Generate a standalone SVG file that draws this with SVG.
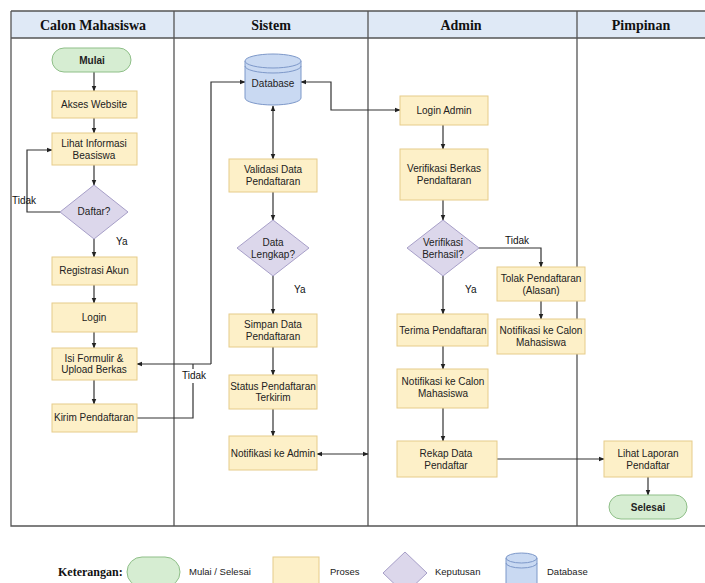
<svg xmlns="http://www.w3.org/2000/svg" width="705" height="583" viewBox="0 0 705 583">
<style>
.hdr{font-family:"Liberation Serif",serif;font-weight:bold;font-size:14px;fill:#111;text-anchor:middle}
.t{font-family:"Liberation Sans",Arial,sans-serif;font-size:10px;fill:#222;text-anchor:middle}
.tb{font-family:"Liberation Sans",Arial,sans-serif;font-size:10px;font-weight:bold;fill:#222;text-anchor:middle}
.lbl{font-family:"Liberation Sans",Arial,sans-serif;font-size:10px;fill:#111}
.lg{font-family:"Liberation Sans",Arial,sans-serif;font-size:9.5px;fill:#222}
.proc{fill:#fdf0c8;stroke:#e6cc8a;stroke-width:1}
.term{fill:#d6edd2;stroke:#8fbf88;stroke-width:1}
.dec{fill:#dcd7eb;stroke:#a79fc8;stroke-width:1}
.db{fill:#c9d9f2;stroke:#7d98c9;stroke-width:1}
.ln{fill:none;stroke:#333;stroke-width:1.2}
.lane{fill:none;stroke:#555;stroke-width:1.3}
</style>
<defs>
<marker id="ah" viewBox="0 0 10 10" refX="9" refY="5" markerWidth="6" markerHeight="6" orient="auto-start-reverse" markerUnits="userSpaceOnUse">
<path d="M0,1 L10,5 L0,9 z" fill="#222"/>
</marker>
</defs>
<rect width="705" height="583" fill="#ffffff"/>
<g id="swimlanes">
<rect x="11" y="11" width="700" height="27" fill="#dfe9f6"/>
<path class="lane" d="M11,11 H711 M11,38 H711 M11,11 V526 H711 M174,11 V526 M368,11 V526 M577,11 V526"/>
<text class="hdr" x="93" y="30">Calon Mahasiswa</text>
<text class="hdr" x="271" y="30">Sistem</text>
<text class="hdr" x="461" y="30">Admin</text>
<text class="hdr" x="641" y="30">Pimpinan</text>
</g>
<g id="connectors">
<path class="ln" d="M94,72 V91" marker-end="url(#ah)"/>
<path class="ln" d="M94,118 V133" marker-end="url(#ah)"/>
<path class="ln" d="M94,165 V185" marker-end="url(#ah)"/>
<path class="ln" d="M60,212 H27 V150 H52" marker-end="url(#ah)"/>
<path class="ln" d="M94,239 V257" marker-end="url(#ah)"/>
<path class="ln" d="M94,285 V303" marker-end="url(#ah)"/>
<path class="ln" d="M94,332 V348" marker-end="url(#ah)"/>
<path class="ln" d="M94,380 V404" marker-end="url(#ah)"/>
<path class="ln" d="M137,418 H193 V383"/>
<path class="ln" d="M193,369 V364"/>
<path class="ln" d="M211,364 H137" marker-end="url(#ah)"/>
<path class="ln" d="M211,364 V82 H245" marker-end="url(#ah)"/>
<path class="ln" d="M273,106 V159" marker-start="url(#ah)" marker-end="url(#ah)"/>
<path class="ln" d="M301,82 H331 V110 H400" marker-start="url(#ah)" marker-end="url(#ah)"/>
<path class="ln" d="M273,192 V220" marker-end="url(#ah)"/>
<path class="ln" d="M273,276 V314" marker-end="url(#ah)"/>
<path class="ln" d="M273,347 V375" marker-end="url(#ah)"/>
<path class="ln" d="M273,409 V436" marker-end="url(#ah)"/>
<path class="ln" d="M317,454 H368" marker-start="url(#ah)" marker-end="url(#ah)"/>
<path class="ln" d="M443,125 V149" marker-end="url(#ah)"/>
<path class="ln" d="M443,200 V220" marker-end="url(#ah)"/>
<path class="ln" d="M479,248 H541 V267" marker-end="url(#ah)"/>
<path class="ln" d="M541,301 V319" marker-end="url(#ah)"/>
<path class="ln" d="M443,276 V314" marker-end="url(#ah)"/>
<path class="ln" d="M443,346 V369" marker-end="url(#ah)"/>
<path class="ln" d="M443,408 V441" marker-end="url(#ah)"/>
<path class="ln" d="M497,459 H604" marker-end="url(#ah)"/>
<path class="ln" d="M648,477 V495" marker-end="url(#ah)"/>
<text class="lbl" x="12" y="204">Tidak</text>
<text class="lbl" x="116" y="245">Ya</text>
<text class="lbl" x="182" y="379">Tidak</text>
<text class="lbl" x="294" y="293">Ya</text>
<text class="lbl" x="505" y="244">Tidak</text>
<text class="lbl" x="465" y="293">Ya</text>
</g>
<g id="n-mulai"><rect class="term" x="52" y="48" width="79" height="24" rx="12"/><text class="tb" x="92" y="64">Mulai</text></g>
<g id="n-akses"><rect class="proc" x="52" y="91" width="85" height="27"/><text class="t" x="94" y="108">Akses Website</text></g>
<g id="n-lihat"><rect class="proc" x="52" y="133" width="85" height="32"/><text class="t" x="94" y="147">Lihat Informasi</text><text class="t" x="94" y="159">Beasiswa</text></g>
<g id="n-daftar"><path class="dec" d="M94,185 L128,212 L94,239 L60,212 Z"/><text class="t" x="94" y="215">Daftar?</text></g>
<g id="n-registrasi"><rect class="proc" x="52" y="257" width="85" height="28"/><text class="t" x="94" y="274">Registrasi Akun</text></g>
<g id="n-login"><rect class="proc" x="52" y="303" width="85" height="29"/><text class="t" x="94" y="321">Login</text></g>
<g id="n-isi"><rect class="proc" x="52" y="348" width="85" height="32"/><text class="t" x="94" y="362">Isi Formulir &amp;</text><text class="t" x="94" y="373">Upload Berkas</text></g>
<g id="n-kirim"><rect class="proc" x="52" y="404" width="85" height="28"/><text class="t" x="94" y="421">Kirim Pendaftaran</text></g>
<g id="n-database"><path class="db" d="M245,61 A28,7 0 0 1 301,61 V98 A28,7 0 0 1 245,98 Z"/><path class="db" fill="none" d="M245,61 A28,7 0 0 0 301,61"/><path fill="none" stroke="#7d98c9" d="M245,66 A28,7 0 0 0 301,66"/><text class="t" x="273" y="87">Database</text></g>
<g id="n-validasi"><rect class="proc" x="229" y="159" width="88" height="33"/><text class="t" x="273" y="173">Validasi Data</text><text class="t" x="273" y="185">Pendaftaran</text></g>
<g id="n-lengkap"><path class="dec" d="M273,220 L309,248 L273,276 L237,248 Z"/><text class="t" x="273" y="246">Data</text><text class="t" x="273" y="258">Lengkap?</text></g>
<g id="n-simpan"><rect class="proc" x="229" y="314" width="88" height="33"/><text class="t" x="273" y="328">Simpan Data</text><text class="t" x="273" y="340">Pendaftaran</text></g>
<g id="n-status"><rect class="proc" x="229" y="375" width="88" height="34"/><text class="t" x="273" y="390">Status Pendaftaran</text><text class="t" x="273" y="401">Terkirim</text></g>
<g id="n-notifadmin"><rect class="proc" x="229" y="436" width="88" height="34"/><text class="t" x="273" y="457">Notifikasi ke Admin</text></g>
<g id="n-loginadmin"><rect class="proc" x="400" y="96" width="88" height="29"/><text class="t" x="444" y="114">Login Admin</text></g>
<g id="n-verifikasi"><rect class="proc" x="400" y="149" width="88" height="51"/><text class="t" x="444" y="172">Verifikasi Berkas</text><text class="t" x="444" y="184">Pendaftaran</text></g>
<g id="n-berhasil"><path class="dec" d="M443,220 L479,248 L443,276 L407,248 Z"/><text class="t" x="443" y="246">Verifikasi</text><text class="t" x="443" y="258">Berhasil?</text></g>
<g id="n-terima"><rect class="proc" x="397" y="314" width="91" height="32"/><text class="t" x="443" y="334">Terima Pendaftaran</text></g>
<g id="n-notifcalon"><rect class="proc" x="397" y="369" width="91" height="39"/><text class="t" x="443" y="385">Notifikasi ke Calon</text><text class="t" x="443" y="397">Mahasiswa</text></g>
<g id="n-rekap"><rect class="proc" x="397" y="441" width="100" height="36"/><text class="t" x="446" y="457">Rekap Data</text><text class="t" x="446" y="469">Pendaftar</text></g>
<g id="n-tolak"><rect class="proc" x="497" y="267" width="88" height="34"/><text class="t" x="541" y="282">Tolak Pendaftaran</text><text class="t" x="541" y="294">(Alasan)</text></g>
<g id="n-notiftolak"><rect class="proc" x="497" y="319" width="88" height="35"/><text class="t" x="541" y="334">Notifikasi ke Calon</text><text class="t" x="541" y="346">Mahasiswa</text></g>
<g id="n-laporan"><rect class="proc" x="604" y="441" width="88" height="36"/><text class="t" x="648" y="457">Lihat Laporan</text><text class="t" x="648" y="469">Pendaftar</text></g>
<g id="n-selesai"><rect class="term" x="609" y="495" width="78" height="24" rx="12"/><text class="tb" x="648" y="511">Selesai</text></g>
<g id="legend">
<text x="58" y="576" style="font-family:'Liberation Serif',serif;font-weight:bold;font-size:12px;fill:#111">Keterangan:</text>
<rect class="term" x="127" y="557" width="53" height="30" rx="15"/>
<text class="lg" x="189" y="575">Mulai / Selesai</text>
<rect class="proc" x="273" y="557" width="46" height="30"/>
<text class="lg" x="330" y="575">Proses</text>
<path class="dec" d="M405,552 L427,573 L405,594 L383,573 Z"/>
<text class="lg" x="435" y="575">Keputusan</text>
<path class="db" d="M506,558 A15.5,5 0 0 1 537,558 V590 H506 Z"/>
<path fill="none" stroke="#7d98c9" d="M506,558 A15.5,5 0 0 0 537,558 M506,563 A15.5,5 0 0 0 537,563"/>
<text class="lg" x="547" y="575">Database</text>
</g>
</svg>
